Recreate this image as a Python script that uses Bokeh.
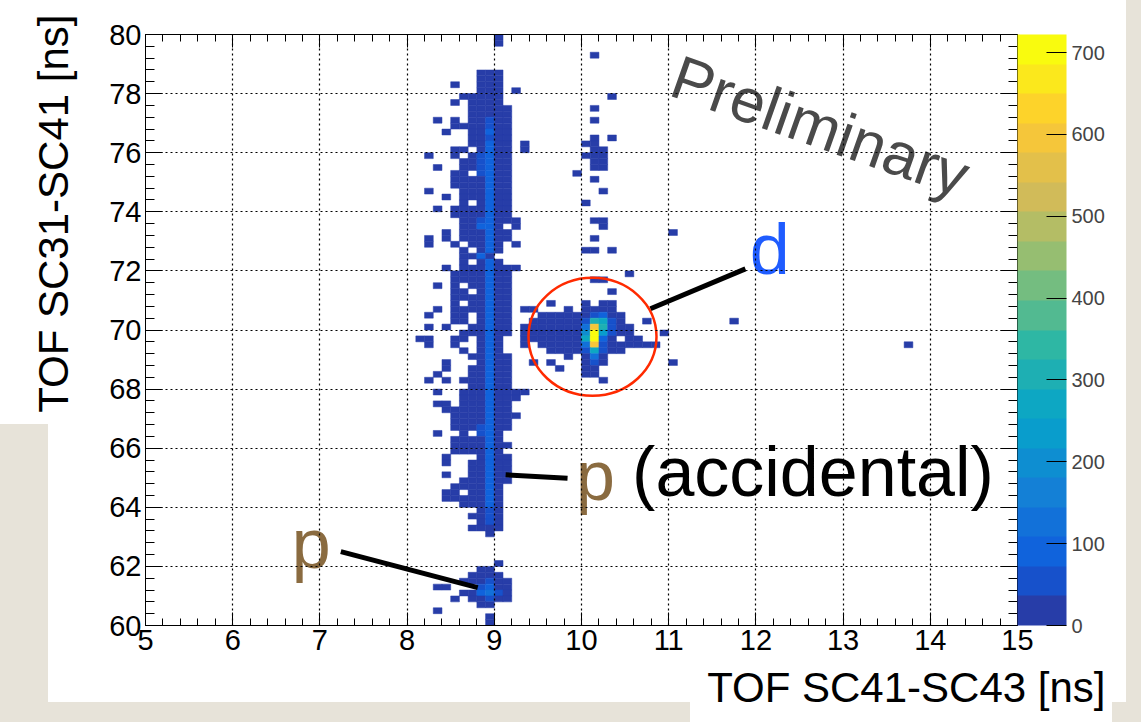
import math
from bokeh.plotting import figure
from bokeh.models import (ColumnDataSource, LinearColorMapper, ColorBar, LinearAxis,
                          Range1d, Title, FixedTicker, CustomJSTickFormatter)
from bokeh.transform import transform
from bokeh.core.properties import value
from bokeh.embed import file_html
from bokeh.resources import INLINE

# ---------------- data ----------------
X_LOW, X_HIGH, BIN_W = 5.0, 15.0, 0.1
Y_LOW, Y_HIGH, BIN_H = 60.0, 80.0, 0.2
Z_MAX = 722
COL0 = 30          # x-bin index of first character in each row (x = 8.0 ns)
TOP_ROW = 99       # y-bin index of the first row string (y = 79.8-80 ns)

# one string per y-bin, top (79.8-80) to bottom (60-60.2); one char per x-bin from 8.0 ns
ROWS = [
    "..........1",
    "..........1",
    "",
    ".....................1",
    "",
    "",
    "........111",
    "........111",
    ".....1..111",
    "........111.1",
    "......11111............1",
    ".....1.1111",
    ".......11111.........1",
    ".......11111",
    "...1.1.11211.........1",
    ".....1111211",
    "....1..11311",
    ".......11211.........1.1",
    ".......11311.1......11",
    ".....11.1311.1.......11",
    "..1..1.12311........111",
    "......112311.........11",
    "...1..112311.........11",
    ".....11.2311.......1",
    ".....1111311.........1",
    ".....1111311",
    "..1...111311..........1",
    "....1.111311",
    "......1.1311........1",
    "...1.1111311",
    ".....1111311",
    "......1123111........11",
    "......11331.1.........1",
    "....1.111311..................1",
    "..1.1.111311.........1",
    "..1..1.1131.1",
    "......1.131.........11.1",
    "......1131",
    "......1.131",
    "....1.1113111",
    ".....1111311.............1",
    ".....1111311.........11",
    "...1.1.11311",
    ".....11.1311...........1",
    ".....1111311",
    ".....1.11311....1...1.11",
    "...1.1111311.11...1.1111",
    "..1..11.1311...1111112311",
    ".....11.1311..11111129821..1.........1",
    "..1.1..11311.11111114h9211",
    "......111311.11111116k7211...1",
    ".11..11.131..11111118k31.11",
    "..1..1..131..1.111114h2111111",
    "......1.131.....111128211",
    ".......11311......1.141",
    "....1...1311..1.1...121.......1",
    "....1..11311.....1..11",
    "...1...11311........11",
    "..1.1.111311..........1",
    ".......11311",
    "...1..11131111",
    "......1113111",
    "...11.111311",
    "....11111311",
    ".....11113111",
    ".....1111311",
    ".....1112311",
    "...1..1.231",
    ".....111131",
    ".....1111311",
    ".....111131",
    "....1...1311",
    "....1..11311",
    ".......11311",
    "....1..11311",
    "......111311",
    ".....111131",
    "....11.1131",
    "....1111131",
    "......11131",
    "........121",
    ".......1121",
    "........121",
    ".......1111",
    ".........1",
    "",
    "",
    "",
    "",
    "..........1",
    "........11",
    ".......1111",
    "......111211",
    "...11...2311",
    "......113421",
    ".....1.11211",
    "........11",
    "...1",
    ".........1",
    ".........1",
]

# entries per bin
LEVEL_COUNTS = {"1": 12, "2": 55, "3": 90, "4": 125, "5": 160, "6": 200, "7": 235,
                "8": 270, "9": 310, "a": 345, "b": 380, "c": 415, "d": 450, "e": 490,
                "f": 525, "g": 560, "h": 600, "i": 635, "j": 670, "k": 712}

# isolated bins outside the row window: (x-bin, y-bin, entries)
EXTRA_X_BIN = [87]
EXTRA_Y_BIN = [47]
EXTRA_COUNT = [12]

CBAR_TICKS = [0, 100, 200, 300, 400, 500, 600, 700]
X_TITLE = "TOF SC41-SC43 [ns]"
Y_TITLE = "TOF SC31-SC41 [ns]"

# annotations (data units)
PRELIM_POS = (12.74, 76.90)
D_POS = (12.16, 72.75)
P_ACC_POS = (10.16, 65.05)
ACC_POS = (10.58, 65.20)
P_POS = (6.90, 62.75)
D_LINE_X, D_LINE_Y = [10.79, 11.88], [70.72, 72.07]
ACC_LINE_X, ACC_LINE_Y = [9.13, 9.84], [65.10, 64.98]
P_LINE_X, P_LINE_Y = [7.24, 8.81], [62.50, 61.28]
CIRCLE = (10.126, 69.77, 1.468, 3.99)

# ---------------- build ----------------
xs, ys, cs = [], [], []
for r, row in enumerate(ROWS):
    j = TOP_ROW - r
    for k, ch in enumerate(row):
        if ch == ".":
            continue
        i = COL0 + k
        xs.append(X_LOW + (i + 0.5) * BIN_W)
        ys.append(Y_LOW + (j + 0.5) * BIN_H)
        cs.append(LEVEL_COUNTS[ch])
for i, j, c in zip(EXTRA_X_BIN, EXTRA_Y_BIN, EXTRA_COUNT):
    xs.append(X_LOW + (i + 0.5) * BIN_W)
    ys.append(Y_LOW + (j + 0.5) * BIN_H)
    cs.append(c)
src = ColumnDataSource(dict(x=xs, y=ys, count=cs))

# ROOT kBird palette, 20 contour levels
stops = [0.0, 0.125, 0.25, 0.375, 0.5, 0.625, 0.75, 0.875, 1.0]
red = [0.2082, 0.0592, 0.0780, 0.0232, 0.1802, 0.5301, 0.8186, 0.9956, 0.9764]
green = [0.1664, 0.3599, 0.5041, 0.6419, 0.7178, 0.7492, 0.7328, 0.7862, 0.9832]
blue = [0.5293, 0.8684, 0.8385, 0.7914, 0.6425, 0.4662, 0.3499, 0.1968, 0.0539]


def bird(f):
    for s in range(len(stops) - 1):
        if f <= stops[s + 1]:
            t = (f - stops[s]) / (stops[s + 1] - stops[s])
            return "#%02x%02x%02x" % tuple(
                int(round(255 * (c[s] + (c[s + 1] - c[s]) * t))) for c in (red, green, blue))
    return "#f9fb0e"


NLEV = 20
palette = [bird(int((k + 0.99) * 255 / NLEV) / 254.0) for k in range(NLEV)]
mapper = LinearColorMapper(palette=palette, low=0, high=Z_MAX)

FONT = "Liberation Sans"
BEIGE = "#e7e3d9"
PAGE_BG = ("linear-gradient(#fff,#fff) 48px 0px / 1078px 702px no-repeat, "
           "linear-gradient(#fff,#fff) 0px 0px / 48px 424px no-repeat, "
           "linear-gradient(#fff,#fff) 690px 661px / 422px 61px no-repeat, " + BEIGE)

p = figure(width=1141, height=722, x_range=Range1d(X_LOW, X_HIGH), y_range=Range1d(Y_LOW, Y_HIGH),
           output_backend="svg", toolbar_location=None,
           min_border_left=145, min_border_right=124, min_border_top=34, min_border_bottom=97,
           background_fill_color="white", border_fill_color="white", border_fill_alpha=0.0,
           outline_line_color="black", outline_line_width=1)
p.styles = {"background": PAGE_BG}

p.rect(x="x", y="y", width=BIN_W, height=BIN_H, source=src,
       fill_color=transform("count", mapper), line_color=transform("count", mapper),
       line_width=0.5)

xt = FixedTicker(ticks=list(range(5, 16)), minor_ticks=[5 + 0.2 * k for k in range(51)])
yt = FixedTicker(ticks=list(range(60, 81, 2)), minor_ticks=[60 + 0.4 * k for k in range(51)])


def style_axis(ax, major, minor, labels=True):
    ax.major_tick_in = major
    ax.major_tick_out = 0
    ax.minor_tick_in = minor
    ax.minor_tick_out = 0
    ax.axis_line_color = "black"
    ax.major_tick_line_color = "black"
    ax.minor_tick_line_color = "black"
    ax.major_label_text_font = FONT
    ax.major_label_text_color = "black"
    ax.major_label_text_font_size = "29px"
    if not labels:
        ax.formatter = CustomJSTickFormatter(code="return ''")
        ax.major_label_standoff = 0


p.xaxis.ticker = xt
p.yaxis.ticker = yt
style_axis(p.xaxis[0], 13, 7)
style_axis(p.yaxis[0], 17, 9)
p.xaxis.major_label_standoff = 4
p.yaxis.major_label_standoff = 4

top_ax = LinearAxis(ticker=xt)
style_axis(top_ax, 13, 7, labels=False)
p.add_layout(top_ax, "above")
right_ax = LinearAxis(ticker=yt)
style_axis(right_ax, 17, 9, labels=False)
p.add_layout(right_ax, "right")

p.xgrid.ticker = xt
p.ygrid.ticker = yt
for g in (p.xgrid[0], p.ygrid[0]):
    g.grid_line_color = "black"
    g.grid_line_dash = "2 3"
    g.grid_line_width = 1.2
    g.level = "overlay"

cb = ColorBar(color_mapper=mapper, ticker=FixedTicker(ticks=CBAR_TICKS), width=49,
              padding=0, margin=6, location=(0, 0),
              major_tick_in=20, major_tick_out=0, minor_tick_line_color=None,
              major_tick_line_color="black", major_label_text_font=FONT,
              major_label_text_font_size="20px", label_standoff=5,
              bar_line_color=None, background_fill_color="white", background_fill_alpha=0.0,
              border_line_color=None)
p.add_layout(cb, "right")

# axis titles (ROOT style: right/top aligned)
p.add_layout(Title(text=Y_TITLE, align="right", offset=-20, vertical_align="top",
                   standoff=55, text_font=FONT, text_font_size="42px",
                   text_font_style="normal", text_color="black"), "left")
p.add_layout(Title(text=X_TITLE, align="right", offset=-88, vertical_align="bottom",
                   standoff=18, text_font=FONT, text_font_size="42px",
                   text_font_style="normal", text_color="black"), "below")

# annotations
p.text(x=[PRELIM_POS[0]], y=[PRELIM_POS[1]], text=["Preliminary"], angle=-0.34,
       text_font=value(FONT), text_font_size="62px", text_color="#4a4a4a",
       text_align="center", text_baseline="middle")
p.text(x=[D_POS[0]], y=[D_POS[1]], text=["d"], text_font=value(FONT), text_font_size="72px",
       text_color="#1f5cff", text_align="center", text_baseline="middle")
p.text(x=[P_ACC_POS[0]], y=[P_ACC_POS[1]], text=["p"], text_font=value(FONT),
       text_font_size="70px", text_color="#8a6b40", text_align="center", text_baseline="middle")
p.text(x=[ACC_POS[0]], y=[ACC_POS[1]], text=["(accidental)"], text_font=value(FONT),
       text_font_size="70px", text_color="black", text_align="left", text_baseline="middle")
p.text(x=[P_POS[0]], y=[P_POS[1]], text=["p"], text_font=value(FONT),
       text_font_size="70px", text_color="#8a6b40", text_align="center", text_baseline="middle")
for lx, ly in [(D_LINE_X, D_LINE_Y), (ACC_LINE_X, ACC_LINE_Y), (P_LINE_X, P_LINE_Y)]:
    p.line(lx, ly, line_color="black", line_width=5)
p.ellipse(x=[CIRCLE[0]], y=[CIRCLE[1]], width=CIRCLE[2], height=CIRCLE[3],
          fill_color=None, line_color="#ff2a00", line_width=2.5)

open("out.html", "w").write(file_html(p, INLINE))
